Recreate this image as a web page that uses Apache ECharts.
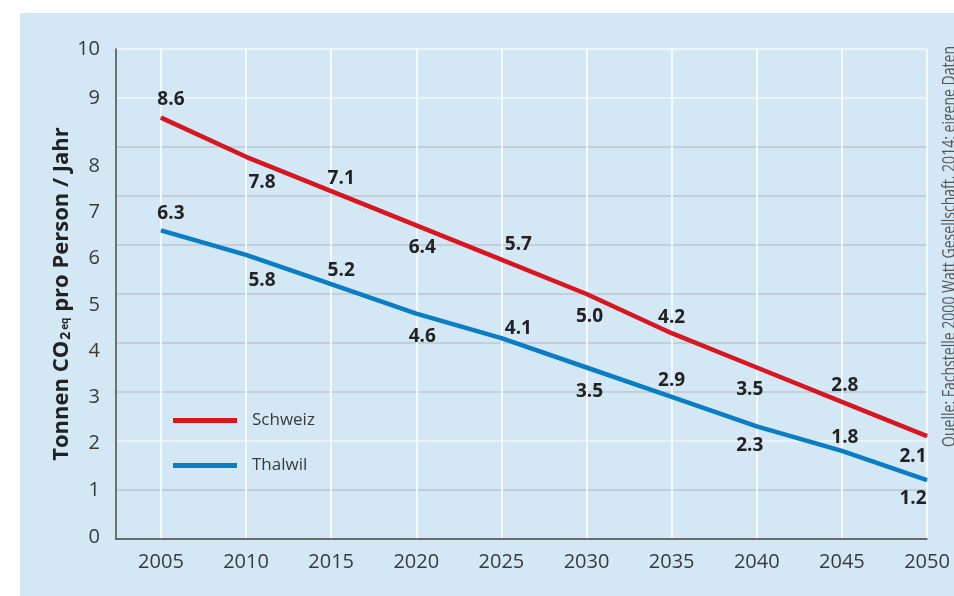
<!DOCTYPE html>
<html>
<head>
<meta charset="utf-8">
<script src="https://cdn.jsdelivr.net/npm/echarts@6/dist/echarts.min.js"></script>
<style>
html,body{margin:0;padding:0;background:#fff;}
#c{width:954px;height:596px;}
</style>
</head>
<body>
<div id="c"></div>
<script>
// ---- data ----
const years = [2005, 2010, 2015, 2020, 2025, 2030, 2035, 2040, 2045, 2050];
const schweiz = [8.6, 7.8, 7.1, 6.4, 5.7, 5.0, 4.2, 3.5, 2.8, 2.1];
const thalwil = [6.3, 5.8, 5.2, 4.6, 4.1, 3.5, 2.9, 2.3, 1.8, 1.2];
const yTicks = [0, 1, 2, 3, 4, 5, 6, 7, 8, 9, 10];
const seriesNames = ['Schweiz', 'Thalwil'];
const sourceText = 'Quelle: Fachstelle 2000 Watt Gesellschaft, 2014; eigene Daten';

// ---- styles (label placement) ----
const redDx = [10, 16, 10, 6, 17, 3, 0, -7, 3, -14];
const redDy = [-18, 26, -13, 22, -15, 23, -16, 22, -16, 20];
const blueDx = [10, 16, 10, 6, 17, 3, 0, -7, 3, -14];
const blueDy = [-17, 26, -14, 23, -10, 24, -16, 19, -13, 18];
// quirky vertical shift of y tick labels in the reference
const yLabelShift = {0: -2, 1: 0, 2: 2, 3: 5, 4: 8, 5: 11, 6: 13, 7: 16, 8: 19, 9: 0, 10: 0};

const FONT = '"Open Sans", "Noto Sans", sans-serif';
const RED = '#d7161f';
const BLUE = '#0a7dc4';

const rich = {};
yTicks.forEach(k => {
  const s = yLabelShift[k];
  rich['s' + k] = {
    fontFamily: FONT, fontSize: 20, color: '#3a3a3a',
    padding: s >= 0 ? [2 * s, 0, 0, 0] : [0, 0, -2 * s, 0]
  };
});

function mk(vals, dx, dy) {
  return vals.map((v, i) => ({
    value: [years[i], v],
    label: { offset: [dx[i], dy[i]] }
  }));
}

const chart = echarts.init(document.getElementById('c'), null, {renderer: 'canvas'});
chart.setOption({
  animation: false,
  backgroundColor: '#ffffff',
  graphic: [
    { type: 'rect', z: -10, shape: { x: 20, y: 13, width: 940, height: 590 }, style: { fill: '#d3e7f5' } },
    { type: 'text', z: 10, x: 959, y: 447, rotation: Math.PI / 2, scaleX: 0.78,
      style: { text: sourceText, fontFamily: FONT, fontSize: 18, fill: '#555', align: 'left', verticalAlign: 'bottom' } }
  ],
  grid: { left: 116, right: 27, top: 49, bottom: 57, containLabel: false },
  legend: {
    orient: 'vertical', left: 173, top: 412, padding: 0,
    itemWidth: 64, itemHeight: 5, itemGap: 28,
    icon: 'rect',
    textStyle: { fontFamily: FONT, fontSize: 17, color: '#3a3a3a', padding: [0, 0, 0, 10] },
    data: seriesNames
  },
  xAxis: {
    type: 'value', min: 2002.36, max: 2050,
    axisLine: { show: true, lineStyle: { color: '#4a4a4a', width: 1.5 } },
    axisTick: { show: false, customValues: years },
    axisLabel: { customValues: years, fontFamily: FONT, fontSize: 20, color: '#3a3a3a', margin: 13,
      formatter: v => String(v) },
    splitLine: { show: true, lineStyle: { color: '#f4f9fd', width: 2 } }
  },
  yAxis: {
    type: 'value', min: 0, max: 10, interval: 1,
    name: 'Tonnen CO{s2|2}{seq|eq} pro Person / Jahr',
    nameLocation: 'middle', nameGap: 43, nameMoveOverlap: false,
    nameTextStyle: {
      fontFamily: FONT, fontSize: 22, fontWeight: 'bold', color: '#222',
      rich: {
        s2: { fontFamily: FONT, fontSize: 14, fontWeight: 'bold', color: '#222', padding: [8, 1, 0, 1] },
        seq: { fontFamily: FONT, fontSize: 10, fontWeight: 'bold', color: '#222', padding: [6, 0, 0, 1] }
      }
    },
    axisLine: { show: true, lineStyle: { color: '#4a4a4a', width: 1.5 } },
    axisTick: { show: false },
    axisLabel: {
      margin: 16, fontFamily: FONT, fontSize: 20, color: '#3a3a3a',
      formatter: v => '{s' + v + '|' + v + '}', rich: rich
    },
    splitLine: { show: true, lineStyle: {
      color: ['#bcc7cf', '#bcc7cf', '#f0f6fb', '#bcc7cf', '#bcc7cf', '#bcc7cf', '#bcc7cf', '#bcc7cf', '#bcc7cf', '#f4f9fd', '#f4f9fd'],
      width: 1.5 } }
  },
  series: [
    {
      name: seriesNames[0], type: 'line', data: mk(schweiz, redDx, redDy),
      symbol: 'circle', symbolSize: 1, itemStyle: { color: RED, borderWidth: 0 },
      lineStyle: { color: RED, width: 4.5 },
      label: { show: true, position: 'inside', fontFamily: FONT, fontSize: 19, fontWeight: 'bold', color: '#222',
        formatter: p => p.value[1].toFixed(1) },
      emphasis: { disabled: true }
    },
    {
      name: seriesNames[1], type: 'line', data: mk(thalwil, blueDx, blueDy),
      symbol: 'circle', symbolSize: 1, itemStyle: { color: BLUE, borderWidth: 0 },
      lineStyle: { color: BLUE, width: 4.5 },
      label: { show: true, position: 'inside', fontFamily: FONT, fontSize: 19, fontWeight: 'bold', color: '#222',
        formatter: p => p.value[1].toFixed(1) },
      emphasis: { disabled: true }
    }
  ]
});
</script>
</body>
</html>
